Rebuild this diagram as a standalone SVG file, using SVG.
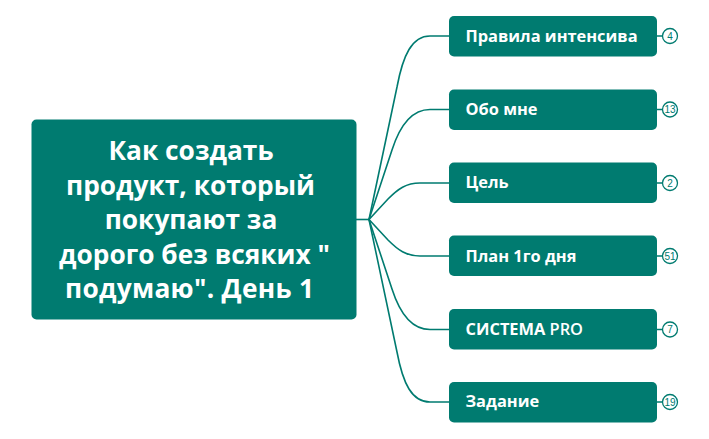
<svg xmlns="http://www.w3.org/2000/svg" width="709" height="439" viewBox="0 0 709 439">
<style>
.box{fill:#007b70}
.root{font:700 26.300px "Open Sans","Noto Sans",sans-serif;fill:#fff;text-anchor:middle}
.lbl{font:700 16.400px "Open Sans","Noto Sans",sans-serif;fill:#fff}
.c{fill:none;stroke:#007b70;stroke-width:1.6}
.badge{fill:#fff;stroke:#007b70;stroke-width:1.3}
.n{font:400 10px "Liberation Sans",sans-serif;fill:#007b70;text-anchor:middle}
</style>
<rect width="709" height="439" fill="#fff"/>
<g id="connectors">
<path class="c" d="M356 219.500H369"/>
<path class="c" d="M369 219.500L397 87C403 55 412 36 430 36H449"/>
<path class="c" d="M369 219.500L392 150C400 125 412 109.500 430 109.500H449"/>
<path class="c" d="M369 219.500L388 199C398 189 406 183 420 183H449"/>
<path class="c" d="M369 219.500L388 240C398 250 406 256 420 256H449"/>
<path class="c" d="M369 219.500L392 289C400 314 412 329.500 430 329.500H449"/>
<path class="c" d="M369 219.500L397 352C403 384 412 402 430 402H449"/>
<path class="c" d="M657 36H663M657 109.500H663M657 183H663M657 256H663M657 329.500H663M657 402H663"/>
</g>
<g id="root"><rect class="box" x="31.500" y="119.500" width="325" height="200" rx="5"/>
<text class="root" x="191" y="160">Как создать</text>
<text class="root" x="190.500" y="195">продукт, который</text>
<text class="root" x="191" y="229">покупают за</text>
<text class="root" x="194.500" y="264">дорого без всяких "</text>
<text class="root" x="189.500" y="298" textLength="249">подумаю". День 1</text></g>
<g id="n1"><rect class="box" x="449" y="16" width="208" height="40.500" rx="5"/><text class="lbl" x="465.500" y="42">Правила интенсива</text><circle class="badge" cx="670" cy="36" r="7.500"/><text class="n" x="670" y="39.500">4</text></g>
<g id="n2"><rect class="box" x="449" y="89.500" width="208" height="40.500" rx="5"/><text class="lbl" x="465.500" y="115">Обо мне</text><circle class="badge" cx="670" cy="109.500" r="7.500"/><text class="n" x="670" y="113">13</text></g>
<g id="n3"><rect class="box" x="449" y="162.500" width="208" height="40.500" rx="5"/><text class="lbl" x="465.500" y="188">Цель</text><circle class="badge" cx="670" cy="183" r="7.500"/><text class="n" x="670" y="186.500">2</text></g>
<g id="n4"><rect class="box" x="449" y="235.500" width="208" height="40.500" rx="5"/><text class="lbl" x="465.500" y="262">План 1го дня</text><circle class="badge" cx="670" cy="256" r="7.500"/><text class="n" x="670" y="259.500">51</text></g>
<g id="n5"><rect class="box" x="449" y="309" width="208" height="40.500" rx="5"/><text class="lbl" x="465.500" y="335">СИСТЕМА <tspan font-weight="600">PRO</tspan></text><circle class="badge" cx="670" cy="329.500" r="7.500"/><text class="n" x="670" y="333">7</text></g>
<g id="n6"><rect class="box" x="449" y="382" width="208" height="40.500" rx="5"/><text class="lbl" x="465.500" y="407">Задание</text><circle class="badge" cx="670" cy="402" r="7.500"/><text class="n" x="670" y="405.500">19</text></g>
</svg>
